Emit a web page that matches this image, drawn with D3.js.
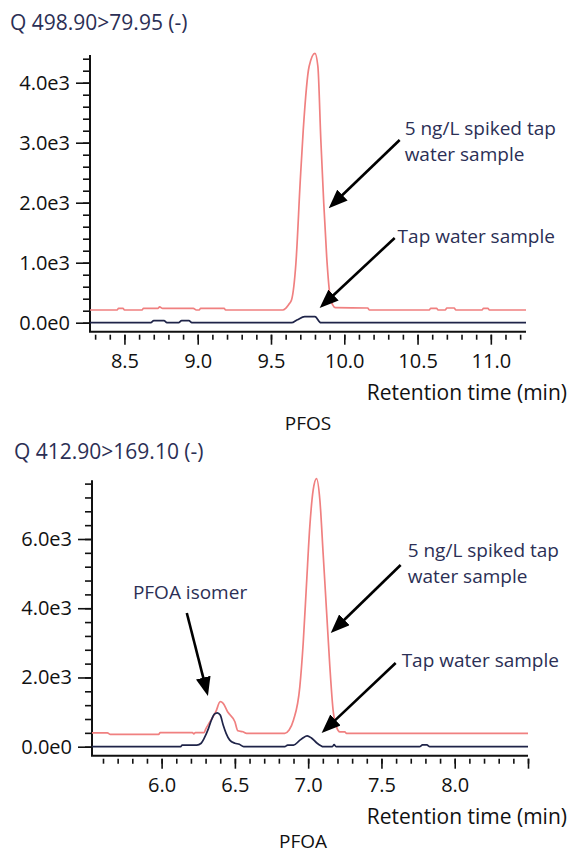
<!DOCTYPE html>
<html>
<head>
<meta charset="utf-8">
<script src="https://cdn.jsdelivr.net/npm/d3@7"></script>
<style>
  body { margin: 0; background: #fff; }
  svg { display: block; font-family: "Open Sans", sans-serif; }
</style>
</head>
<body>
<svg id="chart" width="571" height="856"></svg>
<script>
// PFOS, Q 498.90>79.95 (-)
var pfosSpikedTime = [8.265, 8.45, 8.46, 8.49, 8.50, 8.62, 8.63, 8.73, 8.74, 8.76, 8.97, 8.99, 9.01, 9.02, 9.18, 9.19,
    9.58, 9.60, 9.62, 9.64, 9.67, 9.70, 9.72, 9.76, 9.80, 9.82, 9.84, 9.86, 9.88, 9.90, 9.92, 9.94,
    10.16, 10.17, 10.58, 10.59, 10.63, 10.64, 10.69, 10.70, 10.75, 10.76, 10.94, 10.95, 10.98, 10.99, 11.24];
var pfosSpikedInt = [212, 212, 240, 240, 212, 212, 240, 240, 265, 240, 240, 212, 212, 240, 240, 212,
    212, 240, 300, 378, 990, 2380, 3210, 4270, 4490, 4270, 3050, 1990, 1100, 500, 300, 250,
    245, 212, 212, 240, 240, 212, 212, 245, 245, 212, 212, 240, 240, 212, 212];
var pfosTapTime = [8.265, 8.68, 8.70, 8.77, 8.79, 8.87, 8.89, 8.94, 8.96, 9.64, 9.68, 9.73, 9.80, 9.84, 11.24];
var pfosTapInt = [0, 0, 33, 33, 0, 0, 33, 33, 0, 0, 50, 100, 100, 0, 0];
var pfosMajorTicks = [8.5, 9.0, 9.5, 10.0, 10.5, 11.0];
var pfosMinorTicks = d3.range(83, 113).map(function (d) { return d / 10; });
var pfosYMajor = [0, 1000, 2000, 3000, 4000];
var pfosYMinor = d3.range(0, 4401, 200);

// PFOA, Q 412.90>169.10 (-)
var pfoaSpikedTime = [5.525, 5.63, 5.65, 5.98, 5.99, 6.21, 6.22, 6.23, 6.29, 6.30, 6.33, 6.37, 6.40, 6.42, 6.45, 6.50,
    6.52, 6.555, 6.58, 6.84, 6.87, 6.90, 6.943, 6.966, 6.989, 7.011, 7.034, 7.057, 7.08, 7.102, 7.125,
    7.148, 7.17, 7.193, 7.216, 7.25, 7.26, 8.5];
var pfoaSpikedInt = [400, 400, 356, 356, 405, 405, 370, 405, 405, 500, 720, 1010, 1300, 1250, 1010, 720,
    460, 430, 386, 386, 480, 770, 1730, 2990, 4720, 6350, 7410, 7746, 7120, 5590, 3950,
    2310, 1060, 580, 430, 430, 386, 386];
var pfoaTapTime = [5.525, 6.13, 6.14, 6.24, 6.27, 6.29, 6.32, 6.34, 6.36, 6.38, 6.40, 6.42, 6.44, 6.465, 6.5, 6.53,
    6.56, 6.84, 6.86, 6.90, 6.94, 6.966, 6.993, 7.02, 7.057, 7.09, 7.1, 7.165, 7.177, 7.19,
    7.76, 7.78, 7.81, 7.83, 8.5];
var pfoaTapInt = [0, 0, 45, 45, 100, 240, 530, 770, 940, 980, 915, 625, 386, 190, 100, 70,
    0, 0, 45, 45, 175, 260, 310, 260, 115, 20, 0, 0, 60, 0,
    0, 50, 50, 0, 0];
var pfoaMajorTicks = [6.0, 6.5, 7.0, 7.5, 8.0, 8.5];
var pfoaMajorLabels = ["6.0", "6.5", "7.0", "7.5", "8.0", ""];
var pfoaMinorTicks = d3.range(56, 86).map(function (d) { return d / 10; });
var pfoaYMajor = [0, 2000, 4000, 6000];
var pfoaYMinor = d3.range(0, 7601, 400);

var spikedLabel = ["5 ng/L spiked tap", "water sample"];
var tapLabel = "Tap water sample";

var RED = "#f08080", NAVY = "#1f2449", INK = "#111", TITLE = "#2b2f55";

var svg = d3.select("#chart");

var defs = svg.append("defs");
defs.append("marker")
    .attr("id", "head")
    .attr("viewBox", "0 0 19 15")
    .attr("refX", 19).attr("refY", 7.5)
    .attr("markerWidth", 19).attr("markerHeight", 15)
    .attr("markerUnits", "userSpaceOnUse")
    .attr("orient", "auto")
    .append("path")
    .attr("d", "M0,0 L19,7.5 L0,15 Z")
    .attr("fill", "#000");

function yLabel(v) {
    return v === 0 ? "0.0e0" : (v / 1000).toFixed(1) + "e3";
}

function drawPanel(p) {
    var g = svg.append("g");
    var x = d3.scaleLinear().domain(p.xDomain).range([p.left, p.right]);
    var y = d3.scaleLinear().domain([0, p.yRef]).range([p.zeroY, p.refY]);

    g.append("text")
        .attr("x", p.titleX).attr("y", p.titleY)
        .attr("fill", TITLE).attr("font-size", 21)
        .text(p.title);

    // x axis ticks (offset slightly below the axis line)
    var xg = g.append("g").attr("transform", "translate(0," + (p.axisY + 3) + ")");
    xg.append("g")
        .call(d3.axisBottom(x).tickValues(p.xMinor).tickSize(5).tickFormat(""))
        .call(function (s) { s.select(".domain").remove(); });
    var xMaj = xg.append("g")
        .call(d3.axisBottom(x).tickValues(p.xMajor).tickSize(10)
            .tickFormat(function (d, i) { return p.xLabels ? p.xLabels[i] : d.toFixed(1); }))
        .call(function (s) { s.select(".domain").remove(); });
    xMaj.selectAll("text").attr("y", 33).attr("dy", 0)
        .attr("font-size", 20).attr("font-family", "Open Sans").attr("fill", INK);
    xg.selectAll("line").attr("stroke", INK).attr("stroke-width", 1.6);

    // y axis ticks
    var yg = g.append("g").attr("transform", "translate(" + (p.left - 1) + ",0)");
    yg.append("g")
        .call(d3.axisLeft(y).tickValues(p.yMinor).tickSize(6).tickFormat(""))
        .call(function (s) { s.select(".domain").remove(); });
    var yMaj = yg.append("g")
        .call(d3.axisLeft(y).tickValues(p.yMajor).tickSize(13).tickFormat(yLabel).tickPadding(6))
        .call(function (s) { s.select(".domain").remove(); });
    yMaj.selectAll("text").attr("font-size", 20).attr("font-family", "Open Sans").attr("fill", INK);
    yg.selectAll("line").attr("stroke", INK).attr("stroke-width", 1.6);

    // axis frame
    g.append("path")
        .attr("d", "M" + p.left + "," + y(p.yTop) + "V" + p.axisY + "H" + p.right)
        .attr("fill", "none").attr("stroke", INK).attr("stroke-width", 2);

    var line = d3.line()
        .x(function (d) { return x(d[0]); })
        .y(function (d) { return y(d[1]); })
        .curve(d3.curveMonotoneX);

    g.append("path")
        .datum(d3.zip(p.spikedTime, p.spikedInt))
        .attr("d", line)
        .attr("fill", "none").attr("stroke", RED).attr("stroke-width", 1.7);
    g.append("path")
        .datum(d3.zip(p.tapTime, p.tapInt))
        .attr("d", line)
        .attr("fill", "none").attr("stroke", NAVY).attr("stroke-width", 1.7);

    // annotations
    p.notes.forEach(function (n) {
        var t = g.append("text")
            .attr("x", x(n.at[0])).attr("y", y(n.at[1]))
            .attr("fill", TITLE).attr("font-size", 19);
        n.lines.forEach(function (s, i) {
            t.append("tspan").attr("x", x(n.at[0])).attr("dy", i === 0 ? 0 : 26).text(s);
        });
    });
    p.arrows.forEach(function (a) {
        var x1 = x(a.from[0]), y1 = y(a.from[1]), x2 = x(a.to[0]), y2 = y(a.to[1]);
        var len = Math.hypot(x2 - x1, y2 - y1);
        var k = (len - 10) / len;
        g.append("line")
            .attr("x1", x1).attr("y1", y1)
            .attr("x2", x1 + (x2 - x1) * k).attr("y2", y1 + (y2 - y1) * k)
            .attr("stroke", "#000").attr("stroke-width", 2.6);
        g.append("line")
            .attr("x1", x1).attr("y1", y1)
            .attr("x2", x2).attr("y2", y2)
            .attr("stroke", "none")
            .attr("marker-end", "url(#head)");
    });

    g.append("text")
        .attr("x", 567).attr("y", p.axisY + 68)
        .attr("text-anchor", "end").attr("font-size", 21).attr("fill", INK)
        .text("Retention time (min)");
    g.append("text")
        .attr("x", p.nameX).attr("y", p.nameY)
        .attr("text-anchor", "middle").attr("font-size", 19).attr("fill", INK)
        .text(p.name);
}

drawPanel({
    title: "Q 498.90>79.95 (-)", titleX: 10, titleY: 30, name: "PFOS", nameX: 308, nameY: 430,
    left: 90, right: 526, xDomain: [8.265, 11.24],
    zeroY: 322.7, refY: 82.7, yRef: 4000, yTop: 4460, axisY: 331.7,
    xMajor: pfosMajorTicks, xMinor: pfosMinorTicks, yMajor: pfosYMajor, yMinor: pfosYMinor,
    spikedTime: pfosSpikedTime, spikedInt: pfosSpikedInt, tapTime: pfosTapTime, tapInt: pfosTapInt,
    notes: [
        { lines: spikedLabel, at: [10.412, 3128] },
        { lines: [tapLabel], at: [10.364, 1328] }
    ],
    arrows: [
        { from: [10.378, 3045], to: [9.894, 1908] },
        { from: [10.344, 1412], to: [9.832, 245] }
    ]
});

drawPanel({
    title: "Q 412.90>169.10 (-)", titleX: 14, titleY: 459, name: "PFOA", nameX: 303, nameY: 848,
    left: 92, right: 528, xDomain: [5.525, 8.5],
    zeroY: 746.7, refY: 539, yRef: 6000, yTop: 7700, axisY: 755.7,
    xMajor: pfoaMajorTicks, xLabels: pfoaMajorLabels, xMinor: pfoaMinorTicks, yMajor: pfoaYMajor, yMinor: pfoaYMinor,
    spikedTime: pfoaSpikedTime, spikedInt: pfoaSpikedInt, tapTime: pfoaTapTime, tapInt: pfoaTapInt,
    notes: [
        { lines: ["PFOA isomer"], at: [5.804, 4266] },
        { lines: spikedLabel, at: [7.679, 5480] },
        { lines: [tapLabel], at: [7.638, 2302] }
    ],
    arrows: [
        { from: [6.172, 3862], to: [6.316, 1464] },
        { from: [7.631, 5248], to: [7.154, 3284] },
        { from: [7.597, 2418], to: [7.092, 396] }
    ]
});
</script>
</body>
</html>
